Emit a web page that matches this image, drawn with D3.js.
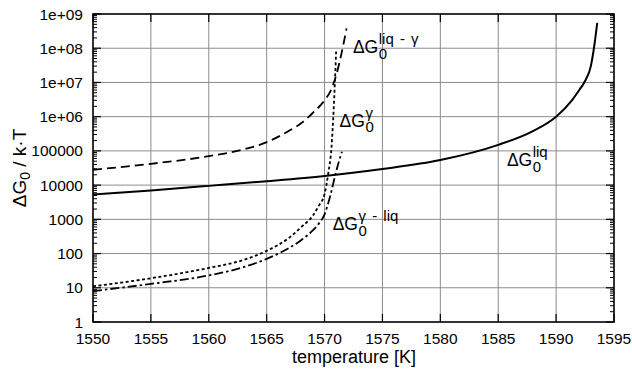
<!DOCTYPE html>
<head>
<script src="https://d3js.org/d3.v7.min.js"></script>
<style>
body { margin: 0; background: #fff; }
text { font-family: "Liberation Sans", Arial, sans-serif; }
</style>
</head>
<body>
<svg></svg>
<script>
// temperature [K] and dG0/kT, one array per curve
var tLiq = [1550, 1555, 1560, 1565, 1570, 1575, 1580, 1585, 1588, 1590, 1591.4, 1592, 1592.5, 1593, 1593.3, 1593.55];
var gLiq = [5300, 7000, 9500, 13000, 18500, 29500, 54000, 150000, 380000, 1000000, 3100000, 6000000, 1.1e7, 3e7, 1.2e8, 5.5e8];

var tLiqGam = [1550, 1555, 1560, 1563, 1565, 1567, 1568, 1569, 1570, 1570.5, 1571, 1571.5, 1571.9];
var gLiqGam = [28000, 42000, 70000, 110000, 180000, 400000, 650000, 1.3e6, 3e6, 5.5e6, 1.6e7, 8e7, 3.8e8];

var tGam = [1550, 1555, 1560, 1563, 1565, 1567, 1568, 1569, 1569.5, 1570, 1570.3, 1570.6, 1570.8, 1571.0];
var gGam = [11, 19, 38, 65, 120, 300, 600, 1300, 2500, 5500, 20000, 130000, 2e6, 8e7];

var tGamLiq = [1550, 1555, 1560, 1563, 1565, 1567, 1568, 1569, 1569.5, 1570, 1570.5, 1571, 1571.5];
var gGamLiq = [8, 13, 23, 40, 70, 150, 250, 480, 750, 1400, 5000, 25000, 95000];

var xTicks = [1550, 1555, 1560, 1565, 1570, 1575, 1580, 1585, 1590, 1595];
var yTicks = [1, 10, 100, 1000, 10000, 100000, 1e6, 1e7, 1e8, 1e9];
var yTickLabels = ["1", "10", "100", "1000", "10000", "100000", "1e+06", "1e+07", "1e+08", "1e+09"];

// curve labels: [T, value, superscript]
var labels = [
  [1572.45, 7.2e7, "liq - \u03b3"],
  [1571.3, 5e5, "\u03b3"],
  [1570.7, 480, "\u03b3 - liq"],
  [1585.75, 36000, "liq"]
];

var width = 632, height = 371;
var pl = 93, pr = 614, pt = 14, pb = 322;

var svg = d3.select("svg").attr("width", width).attr("height", height);

var x = d3.scaleLinear().domain([1550, 1595]).range([pl, pr]);
var y = d3.scaleLog().domain([1, 1e9]).range([pb, pt]);

// grid
svg.append("g").selectAll("line").data(xTicks.slice(1, -1)).enter().append("line")
  .attr("x1", function(d) { return x(d); }).attr("x2", function(d) { return x(d); })
  .attr("y1", pt).attr("y2", pb)
  .attr("stroke", "#8c8c8c").attr("stroke-width", 1);
svg.append("g").selectAll("line").data(yTicks.slice(1, -1)).enter().append("line")
  .attr("x1", pl).attr("x2", pr)
  .attr("y1", function(d) { return y(d); }).attr("y2", function(d) { return y(d); })
  .attr("stroke", "#8c8c8c").attr("stroke-width", 1);

// minor ticks on left/right (log 2..9)
var minor = [];
yTicks.slice(0, -1).forEach(function(d) {
  for (var k = 2; k <= 9; k++) minor.push(d * k);
});
[pl, pr].forEach(function(ax) {
  var dir = ax == pl ? 1 : -1;
  svg.append("g").selectAll("line").data(minor).enter().append("line")
    .attr("x1", ax).attr("x2", ax + dir * 4)
    .attr("y1", function(d) { return y(d); }).attr("y2", function(d) { return y(d); })
    .attr("stroke", "#000").attr("stroke-width", 1);
  svg.append("g").selectAll("line").data(yTicks).enter().append("line")
    .attr("x1", ax).attr("x2", ax + dir * 8)
    .attr("y1", function(d) { return y(d); }).attr("y2", function(d) { return y(d); })
    .attr("stroke", "#000").attr("stroke-width", 1.2);
});
[pt, pb].forEach(function(ay) {
  var dir = ay == pb ? -1 : 1;
  svg.append("g").selectAll("line").data(xTicks).enter().append("line")
    .attr("x1", function(d) { return x(d); }).attr("x2", function(d) { return x(d); })
    .attr("y1", ay).attr("y2", ay + dir * 8)
    .attr("stroke", "#000").attr("stroke-width", 1.2);
});

// curves
var line = d3.line()
  .x(function(d) { return x(d[0]); })
  .y(function(d) { return y(d[1]); })
  .curve(d3.curveMonotoneX);

var curves = [
  [tLiq, gLiq, null, 2],
  [tLiqGam, gLiqGam, "9,5", 1.8],
  [tGam, gGam, "3,2.5", 1.8],
  [tGamLiq, gGamLiq, "9,3,2.5,3", 1.8]
];
curves.forEach(function(c) {
  var pts = c[0].map(function(t, i) { return [t, c[1][i]]; });
  svg.append("path").datum(pts)
    .attr("d", line)
    .attr("fill", "none")
    .attr("stroke", "#000")
    .attr("stroke-width", c[3])
    .attr("stroke-dasharray", c[2]);
});

// frame
svg.append("rect").attr("x", pl).attr("y", pt)
  .attr("width", pr - pl).attr("height", pb - pt)
  .attr("fill", "none").attr("stroke", "#000").attr("stroke-width", 1.6);

// tick labels
svg.append("g").selectAll("text").data(xTicks).enter().append("text")
  .attr("x", function(d) { return x(d); }).attr("y", 344)
  .attr("text-anchor", "middle").attr("font-size", 15.5)
  .text(function(d) { return d; });
svg.append("g").selectAll("text").data(yTicks).enter().append("text")
  .attr("x", 83).attr("y", function(d) { return y(d) + 5.5; })
  .attr("text-anchor", "end").attr("font-size", 15.5)
  .text(function(d, i) { return yTickLabels[i]; });

// axis titles
svg.append("text").attr("x", 354).attr("y", 363)
  .attr("text-anchor", "middle").attr("font-size", 18)
  .text("temperature [K]");

var yt = svg.append("text").attr("transform", "translate(26,168) rotate(-90)")
  .attr("text-anchor", "middle").attr("font-size", 19);
yt.append("tspan").text("\u0394G");
yt.append("tspan").attr("font-size", 14).attr("dy", 4).text("0");
yt.append("tspan").attr("dy", -4).text(" / k\u00b7T");

// curve labels
labels.forEach(function(l) {
  var lx = x(l[0]), ly = y(l[1]);
  var t = svg.append("text").attr("x", lx).attr("y", ly).attr("font-size", 17.5);
  var m = t.append("tspan").text("\u0394G");
  var w = m.node().getComputedTextLength();
  t.append("tspan").attr("x", lx + w + 0.5).attr("y", ly + 5.5).attr("font-size", 15).text("0");
  t.append("tspan").attr("x", lx + w + 0.5).attr("y", ly - 9).attr("font-size", 15)
    .attr("word-spacing", 2).text(l[2]);
});
</script>
</body>
